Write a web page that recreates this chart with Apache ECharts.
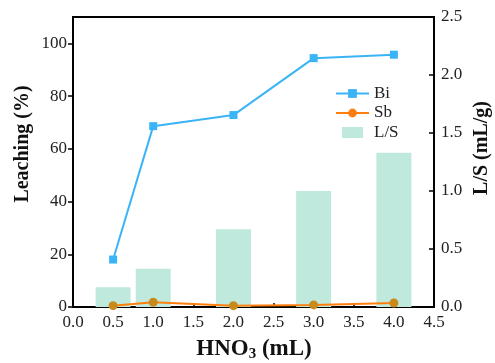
<!DOCTYPE html>
<html><head><meta charset="utf-8">
<script src="https://cdn.jsdelivr.net/npm/echarts@6/dist/echarts.min.js"></script>
<style>html,body{margin:0;padding:0;background:#fff}#c{width:495px;height:363px}</style>
</head><body><div id="c"></div>
<script>
const hno3 = [0.5, 1.0, 2.0, 3.0, 4.0];
const bi = [18.0, 68.6, 72.8, 94.4, 95.7];
const sb = [0.5, 1.8, 0.5, 0.8, 1.5];
const ls = [0.17, 0.33, 0.67, 1.0, 1.33];
const leftTicks = [0, 20, 40, 60, 80, 100];
const rightTicks = [0, 0.5, 1.0, 1.5, 2.0, 2.5];

const FONT = '"Liberation Serif","DejaVu Serif",serif';
const pair = (xs, ys) => xs.map((x, i) => [x, ys[i]]);
const chart = echarts.init(document.getElementById('c'), null, {renderer: 'canvas'});
chart.setOption({
  animation: false,
  grid: {left: 73, right: 61, top: 17, bottom: 56, show: true, borderColor: '#000', borderWidth: 2},
  legend: {
    orient: 'vertical', left: 330, top: 80, itemWidth: 33, itemHeight: 11, itemGap: 2.5,
    textStyle: {fontFamily: FONT, fontSize: 17, color: '#222'},
    data: [
      {name: 'Bi'},
      {name: 'Sb', itemStyle: {color: '#ff7f0e'}},
      {name: 'L/S', icon: 'path://M0,0L21,0L21,11L0,11Z'}
    ]
  },
  xAxis: {
    type: 'value', min: 0, max: 4.5, interval: 0.5,
    axisLine: {lineStyle: {color: '#000', width: 2}},
    axisTick: {inside: true, length: 4, lineStyle: {color: '#000', width: 1.5}},
    splitLine: {show: false},
    axisLabel: {fontFamily: FONT, fontSize: 17, color: '#222', margin: 7, formatter: v => v.toFixed(1)}
  },
  yAxis: [{
    type: 'value', min: 0, max: 110, interval: 20,
    axisLine: {show: true, lineStyle: {color: '#000', width: 2}},
    axisTick: {show: true, length: 5, customValues: leftTicks, lineStyle: {color: '#000', width: 1.5}},
    splitLine: {show: false},
    axisLabel: {fontFamily: FONT, fontSize: 17, color: '#222', margin: 6, customValues: leftTicks}
  }, {
    type: 'value', min: 0, max: 2.5, interval: 0.5, position: 'right',
    axisLine: {show: true, lineStyle: {color: '#000', width: 2}},
    axisTick: {show: true, inside: true, length: 5, customValues: rightTicks, lineStyle: {color: '#000', width: 1.5}},
    splitLine: {show: false},
    axisLabel: {fontFamily: FONT, fontSize: 17, color: '#222', margin: 7, customValues: rightTicks, formatter: v => v.toFixed(1)}
  }],
  graphic: [
    {type: 'text', x: 23, y: 144, rotation: Math.PI / 2, silent: true,
      style: {text: 'Leaching (%)', fontFamily: FONT, fontSize: 20, fontWeight: 'bold', fill: '#111', align: 'center', verticalAlign: 'middle'}},
    {type: 'text', x: 482, y: 148, rotation: Math.PI / 2, silent: true,
      style: {text: 'L/S (mL/g)', fontFamily: FONT, fontSize: 20, fontWeight: 'bold', fill: '#111', align: 'center', verticalAlign: 'middle'}},
    {type: 'text', x: 254, y: 349, silent: true,
      style: {text: '{a|HNO}{s|3}{a| (mL)}', align: 'center', verticalAlign: 'middle',
        rich: {a: {fontFamily: FONT, fontSize: 23, fontWeight: 'bold', fill: '#111'},
               s: {fontFamily: FONT, fontSize: 15, fontWeight: 'bold', fill: '#111', padding: [11, 0, 0, 0]}}}}
  ],
  series: [{
    name: 'L/S', type: 'bar', yAxisIndex: 1, barWidth: 35, z: 1,
    itemStyle: {color: '#bfe9dd'}, data: pair(hno3, ls)
  }, {
    name: 'Bi', type: 'line', yAxisIndex: 0, symbol: 'rect', symbolSize: 8, z: 3,
    lineStyle: {color: '#3ab4f7', width: 2}, itemStyle: {color: '#3ab4f7'}, data: pair(hno3, bi)
  }, {
    name: 'Sb', type: 'line', yAxisIndex: 0, symbol: 'circle', symbolSize: 9, z: 4,
    lineStyle: {color: '#ff7f0e', width: 2}, itemStyle: {color: '#c98a1c'}, data: pair(hno3, sb)
  }]
});
</script></body></html>
